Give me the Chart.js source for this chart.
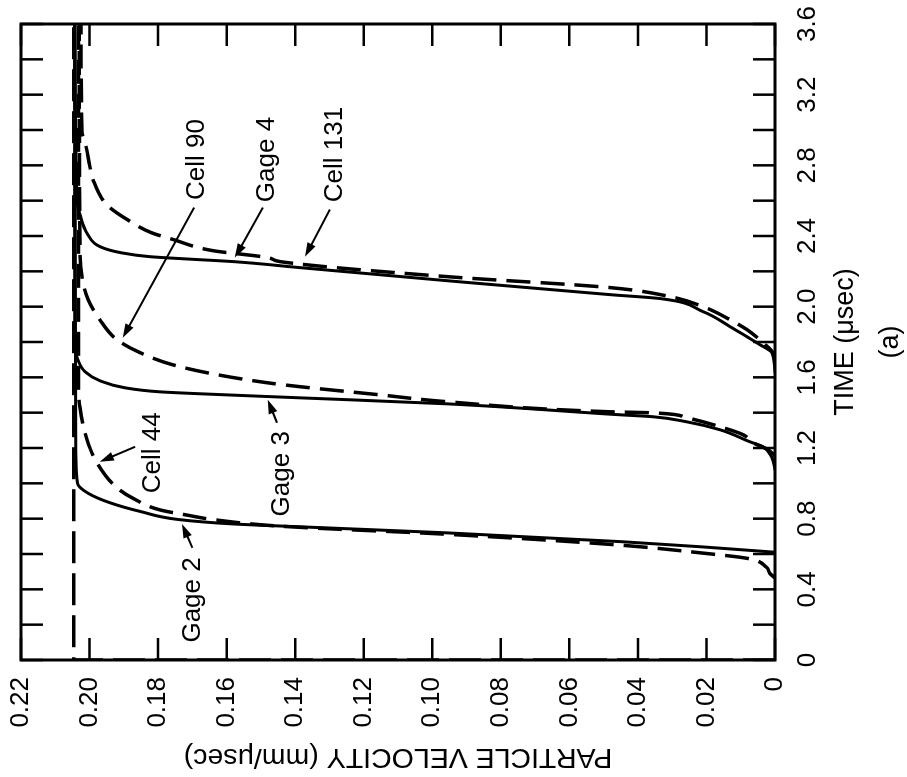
<!DOCTYPE html>
<html>
<head>
<meta charset="utf-8">
<title>Particle velocity histories</title>
<script src="https://cdn.jsdelivr.net/npm/chart.js@4.4.1/dist/chart.umd.min.js"></script>
<style>
  html, body { margin: 0; padding: 0; background: #fff; overflow: hidden; width: 907px; height: 777px; }
  /* the figure is printed turned a quarter turn, so the chart is drawn upright and rotated */
  #wrap {
    position: absolute; left: 0; top: 0; width: 777px; height: 907px;
    transform-origin: 0 0;
    transform: translate(0, 777px) rotate(-90deg);
  }
</style>
</head>
<body>
<div id="wrap"><canvas id="chart" width="777" height="907"></canvas></div>
<script>
  // time in usec, particle velocity in mm/usec
  const timeTicks  = [0, 0.4, 0.8, 1.2, 1.6, 2.0, 2.4, 2.8, 3.2, 3.6];
  const timeLabels = ['0', '0.4', '0.8', '1.2', '1.6', '2.0', '2.4', '2.8', '3.2', '3.6'];
  const timeMarks  = [0, 0.2, 0.4, 0.6, 0.8, 1.0, 1.2, 1.4, 1.6, 1.8, 2.0, 2.2, 2.4, 2.6, 2.8, 3.0, 3.2, 3.4, 3.6];
  const velTicks   = [0, 0.02, 0.04, 0.06, 0.08, 0.10, 0.12, 0.14, 0.16, 0.18, 0.20, 0.22];
  const velLabels  = ['0', '0.02', '0.04', '0.06', '0.08', '0.10', '0.12', '0.14', '0.16', '0.18', '0.20', '0.22'];

  const inputTime = [0, 0, 3.6];
  const inputVel  = [0, 0.2046, 0.2046];

  const gage2Time = [0.61, 0.64, 0.67, 0.72, 0.755, 0.77, 0.795, 0.84, 0.89, 0.945, 1.0, 1.2, 3.6];
  const gage2Vel  = [0, 0.021, 0.045, 0.096, 0.140, 0.158, 0.174, 0.185, 0.194, 0.2005, 0.2035, 0.204, 0.2043];

  const cell44Time = [0.465, 0.49, 0.525, 0.575, 0.605, 0.65, 0.712, 0.757, 0.795, 0.82, 0.85, 0.915, 0.975, 1.115, 1.245, 1.43, 1.55, 3.6];
  const cell44Vel  = [0, 0.0015, 0.0025, 0.008, 0.021, 0.045, 0.096, 0.144, 0.164, 0.1715, 0.1795, 0.1873, 0.192, 0.1978, 0.2007, 0.2028, 0.2032, 0.2032];

  const gage3Time = [1.076, 1.15, 1.207, 1.235, 1.303, 1.348, 1.377, 1.388, 1.45, 1.484, 1.507, 1.518, 1.541, 1.581, 1.632, 1.70, 1.773, 3.6];
  const gage3Vel  = [0, 0.001, 0.0035, 0.0073, 0.016, 0.0257, 0.0356, 0.0452, 0.0957, 0.1386, 0.1678, 0.1795, 0.1897, 0.197, 0.2013, 0.2034, 0.2043, 0.2043];

  const cell90Time = [1.156, 1.19, 1.23, 1.275, 1.32, 1.371, 1.399, 1.405, 1.462, 1.501, 1.547, 1.569, 1.615, 1.671, 1.74, 1.813, 1.926, 2.04, 2.136, 2.32, 3.6];
  const cell90Vel  = [0, 0.002, 0.0064, 0.0093, 0.016, 0.0257, 0.0356, 0.0481, 0.0957, 0.1153, 0.1386, 0.148, 0.1628, 0.1757, 0.1853, 0.192, 0.197, 0.2004, 0.2019, 0.2028, 0.203];

  const gage4Time = [1.626, 1.739, 1.785, 1.83, 1.887, 1.972, 2.046, 2.068, 2.147, 2.221, 2.255, 2.269, 2.283, 2.306, 2.34, 2.408, 2.521, 2.606, 3.6];
  const gage4Vel  = [0, 0.0009, 0.0044, 0.0082, 0.0131, 0.021, 0.0336, 0.0481, 0.0957, 0.1386, 0.158, 0.1707, 0.1824, 0.191, 0.197, 0.2005, 0.2028, 0.2037, 0.2043];

  const cell131Time = [1.67, 1.739, 1.796, 1.87, 1.926, 2.0, 2.057, 2.108, 2.17, 2.255, 2.278, 2.317, 2.38, 2.419, 2.493, 2.578, 2.72, 2.793, 2.929, 2.986, 3.6];
  const cell131Vel  = [0, 0.0006, 0.0035, 0.0082, 0.0131, 0.021, 0.0306, 0.0481, 0.0957, 0.1444, 0.148, 0.164, 0.1756, 0.182, 0.189, 0.195, 0.199, 0.1999, 0.2013, 0.2022, 0.2025];

  // curve labels: text anchor and leader arrow, in data units
  const notes = [
    { text: 'Gage 2',   t: 0.34,  v: 0.1698, from: [0.635, 0.170],  to: [0.77, 0.173] },
    { text: 'Cell 44',  t: 1.173, v: 0.1815, from: [1.207, 0.1867], to: [1.122, 0.197] },
    { text: 'Gage 3',   t: 1.054, v: 0.1439, from: [1.343, 0.1453], to: [1.473, 0.148] },
    { text: 'Cell 90',  t: 2.833, v: 0.1687, from: [2.561, 0.1695], to: [1.824, 0.1903] },
    { text: 'Gage 4',   t: 2.833, v: 0.1482, from: [2.561, 0.1494], to: [2.278, 0.1576] },
    { text: 'Cell 131', t: 2.861, v: 0.1284, from: [2.55, 0.1299],  to: [2.283, 0.1371] }
  ];

  const FONT = "'Liberation Sans', Arial, Helvetica, sans-serif";
  const TICK = 22;

  const pts = (ts, vs) => ts.map((t, i) => ({ x: t, y: vs[i] }));

  function curve(label, ts, vs, dashed) {
    return {
      label: label,
      data: pts(ts, vs),
      borderColor: '#000',
      borderWidth: dashed ? 3.5 : 3,
      borderDash: dashed ? [24, 10] : [],
      pointRadius: 0,
      cubicInterpolationMode: 'monotone',
      fill: false
    };
  }

  const inputLine = curve('Input', inputTime, inputVel, true);
  inputLine.cubicInterpolationMode = 'default';
  inputLine.tension = 0;
  inputLine.borderDash = [32, 10];

  const frameAndNotes = {
    id: 'frameAndNotes',
    afterDatasetsDraw(chart) {
      const { ctx, chartArea: a, scales: { x, y } } = chart;
      ctx.save();
      ctx.strokeStyle = '#000';
      ctx.fillStyle = '#000';
      ctx.lineWidth = 3;
      ctx.strokeRect(a.left, a.top, a.right - a.left, a.bottom - a.top);

      // inward tick marks on all four sides
      ctx.lineWidth = 2.5;
      ctx.beginPath();
      timeMarks.forEach(t => {
        const px = x.getPixelForValue(t);
        ctx.moveTo(px, a.bottom); ctx.lineTo(px, a.bottom - TICK);
        ctx.moveTo(px, a.top);    ctx.lineTo(px, a.top + TICK);
      });
      velTicks.forEach(v => {
        const py = y.getPixelForValue(v);
        ctx.moveTo(a.left, py);  ctx.lineTo(a.left + TICK, py);
        ctx.moveTo(a.right, py); ctx.lineTo(a.right - TICK, py);
      });
      ctx.stroke();

      // labels with leader arrows
      ctx.font = '26px ' + FONT;
      ctx.textAlign = 'center';
      ctx.textBaseline = 'middle';
      ctx.lineWidth = 2;
      notes.forEach(n => {
        ctx.fillText(n.text, x.getPixelForValue(n.t), y.getPixelForValue(n.v));
        const x1 = x.getPixelForValue(n.from[0]), y1 = y.getPixelForValue(n.from[1]);
        const x2 = x.getPixelForValue(n.to[0]),   y2 = y.getPixelForValue(n.to[1]);
        const ang = Math.atan2(y2 - y1, x2 - x1);
        ctx.beginPath();
        ctx.moveTo(x1, y1);
        ctx.lineTo(x2 - 8 * Math.cos(ang), y2 - 8 * Math.sin(ang));
        ctx.stroke();
        ctx.beginPath();
        ctx.moveTo(x2, y2);
        ctx.lineTo(x2 - 14 * Math.cos(ang) + 4.5 * Math.sin(ang), y2 - 14 * Math.sin(ang) - 4.5 * Math.cos(ang));
        ctx.lineTo(x2 - 14 * Math.cos(ang) - 4.5 * Math.sin(ang), y2 - 14 * Math.sin(ang) + 4.5 * Math.cos(ang));
        ctx.closePath();
        ctx.fill();
      });
      ctx.restore();
    }
  };

  new Chart(document.getElementById('chart'), {
    type: 'line',
    data: {
      datasets: [
        inputLine,
        curve('Gage 2', gage2Time, gage2Vel, false),
        curve('Cell 44', cell44Time, cell44Vel, true),
        curve('Gage 3', gage3Time, gage3Vel, false),
        curve('Cell 90', cell90Time, cell90Vel, true),
        curve('Gage 4', gage4Time, gage4Vel, false),
        curve('Cell 131', cell131Time, cell131Vel, true)
      ]
    },
    options: {
      responsive: false,
      animation: false,
      events: [],
      layout: { padding: { left: 0, right: 24, top: 21, bottom: 0 } },
      plugins: { legend: { display: false }, tooltip: { enabled: false } },
      scales: {
        x: {
          type: 'linear',
          min: 0, max: 3.6,
          afterBuildTicks: s => { s.ticks = timeTicks.map(value => ({ value })); },
          afterFit: s => { s.height = 132; s.paddingLeft = 0; s.paddingRight = 0; },
          grid: { display: false, drawTicks: false },
          border: { display: false },
          ticks: {
            color: '#000', padding: 17, maxRotation: 0, autoSkip: false,
            font: { family: FONT, size: 26 },
            callback: (val, i) => timeLabels[i]
          },
          title: {
            display: true, text: ['TIME (μsec)', '(a)'], color: '#000',
            font: { family: FONT, size: 27, lineHeight: '45px' },
            padding: { top: 0, bottom: -6 }
          }
        },
        y: {
          type: 'linear',
          min: 0, max: 0.22,
          afterBuildTicks: s => { s.ticks = velTicks.map(value => ({ value })); },
          afterFit: s => { s.width = 117; s.paddingTop = 0; s.paddingBottom = 0; },
          grid: { display: false, drawTicks: false },
          border: { display: false },
          ticks: {
            color: '#000', padding: 17, autoSkip: false,
            font: { family: FONT, size: 26 },
            callback: (val, i) => velLabels[i]
          },
          title: {
            display: true, text: 'PARTICLE VELOCITY (mm/μsec)', color: '#000',
            font: { family: FONT, size: 28.5 },
            padding: { top: 3, bottom: 0 }
          }
        }
      }
    },
    plugins: [frameAndNotes]
  });
</script>
</body>
</html>
